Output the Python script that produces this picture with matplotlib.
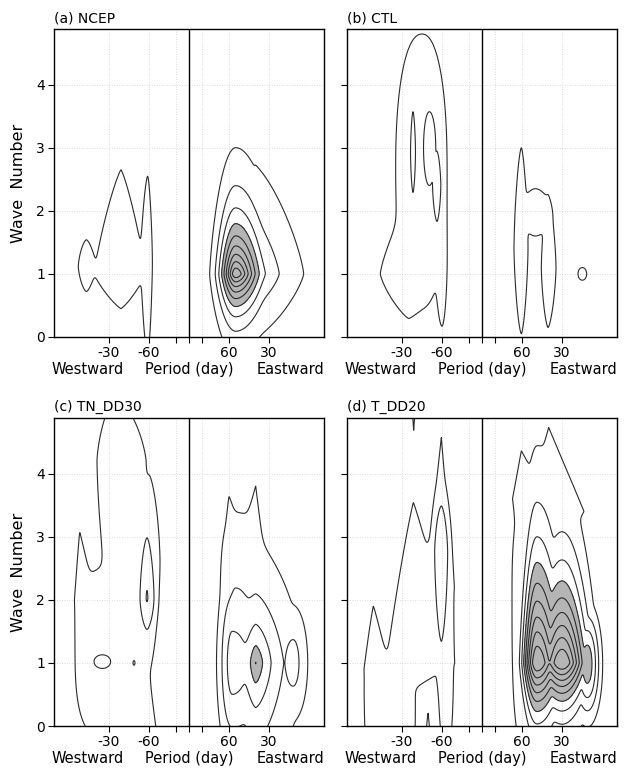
import numpy as np
import matplotlib
matplotlib.use('Agg')
import matplotlib.pyplot as plt

# frequency axis in cycles per 360 days (period P -> 360/P), wave number 0..4.9
FREQ_LIM = 20.25
WAVE_LIM = 4.88
TICK_POS = [-12, -6, -2, 0, 2, 6, 12]
TICK_LAB = ['-30', '-60', '', '', '', '60', '30']
WAVE_TICKS = [0, 1, 2, 3, 4]
LEVELS = [1, 2, 3, 4, 5, 6, 7, 8, 9, 10, 11]
SHADE_FROM = 4

# spectral peaks:
# (freq, wave, peak, left, right, down, up, shape p, profile qx, profile qy)
# left/right/down/up = half-extent of the outermost (level 1) contour
NCEP_PEAKS = [
    (-6.2, 1.2, 1.6, 1.0, 0.7, 1.5, 1.35, 1.5, 1, 1),
    (-10.2, 1.0, 1.6, 4.0, 3.6, 0.55, 1.65, 1.2, 1, 1),
    (-15.4, 1.12, 1.6, 1.2, 1.3, 0.4, 0.42, 1.5, 1, 1),
    (7.0, 1.0, 10.0, 3.9, 6.5, 1.3, 2.0, 1.3, 1.5, 1),
    (10.0, 1.0, 3.9, 2.0, 7.2, 1.0, 1.7, 1.3, 1, 1),
]
CTL_PEAKS = [
    (-9.0, 2.7, 1.6, 3.95, 3.75, 2.2, 2.1, 2.2, 1, 1),
    (-11.0, 1.0, 1.6, 4.25, 3.5, 0.68, 1.0, 1.3, 1, 1),
    (-6.0, 1.2, 1.6, 0.9, 0.75, 1.02, 1.5, 1.8, 1, 1),
    (-10.35, 2.93, 2.95, 0.62, 0.62, 1.07, 1.07, 0.8, 2, 2),
    (-7.9, 3.0, 2.95, 1.45, 1.6, 1.0, 0.95, 1.0, 2, 2),
    (-6.75, 2.4, 2.95, 1.1, 0.95, 0.95, 0.9, 0.8, 2, 2),
    (5.9, 1.4, 1.6, 1.1, 1.0, 1.35, 1.6, 1.5, 1, 1),
    (9.9, 1.1, 1.6, 1.0, 1.2, 0.95, 1.1, 1.5, 1, 1),
    (8.0, 1.95, 1.6, 2.2, 2.4, 0.35, 0.4, 1.8, 1, 1),
    (15.05, 1.0, 1.3, 0.65, 0.65, 0.1, 0.1, 2.0, 1, 1),
]
TN_PEAKS = [
    (-11.2, 1.3, 1.6, 5.9, 4.85, 1.55, 1.2, 3.0, 1, 1),
    (-6.3, 0.0, 1.6, 1.5, 1.3, 0.5, 1.0, 1.0, 1, 1),
    (-11.0, 4.2, 1.6, 2.8, 4.5, 2.6, 1.0, 1.5, 1, 1),
    (-5.9, 2.6, 1.6, 2.0, 1.55, 1.6, 1.3, 1.6, 1, 1),
    (-16.4, 2.0, 1.6, 0.7, 2.0, 1.0, 1.07, 1.1, 1, 1),
    (-13.0, 1.02, 2.95, 2.08, 2.08, 0.18, 0.18, 1.0, 2, 2),
    (-6.3, 2.03, 3.02, 1.72, 1.72, 0.82, 1.56, 0.8, 2, 2),
    (-8.25, 1.0, 2.05, 0.8, 0.8, 0.2, 0.2, 1.0, 2, 2),
    (7.0, 1.8, 1.6, 2.3, 3.0, 2.2, 1.5, 3.0, 1, 1),
    (6.0, 2.8, 1.6, 0.6, 1.6, 1.0, 0.82, 1.2, 1, 1),
    (10.0, 2.6, 1.6, 3.0, 1.4, 1.0, 1.2, 1.0, 1, 1),
    (10.0, 1.0, 5.05, 5.5, 7.2, 2.2, 1.9, 1.5, 1, 1),
    (6.5, 1.0, 3.4, 2.35, 6.9, 1.56, 1.56, 1.0, 2, 2),
    (7.0, 1.4, 2.3, 2.3, 6.3, 2.2, 1.9, 1.0, 2, 2),
    (15.6, 1.0, 2.3, 2.7, 2.2, 0.9, 0.9, 1.0, 2, 2),
]
T_PEAKS = [
    (-16.3, 0.9, 1.6, 1.35, 2.2, 1.5, 1.0, 1.1, 1, 1),
    (-13.6, 0.3, 1.6, 4.0, 3.6, 1.0, 0.7, 3.0, 1, 1),
    (-10.3, 1.0, 1.6, 4.0, 5.9, 0.39, 2.54, 1.1, 1, 1),
    (-6.1, 2.2, 1.6, 2.44, 1.85, 1.5, 2.37, 1.0, 1, 1),
    (-5.3, 1.4, 1.6, 1.3, 1.05, 1.8, 1.65, 2.5, 1, 1),
    (-6.1, 2.75, 2.95, 1.67, 1.58, 2.35, 1.23, 0.8, 2, 2),
    (-10.25, 5.15, 1.6, 0.3, 0.3, 0.47, 0.3, 1.0, 1, 1),
    (-8.1, -0.1, 1.6, 0.3, 0.3, 0.3, 0.32, 1.0, 1, 1),
    (7.0, 2.0, 1.6, 2.5, 3.0, 2.4, 1.5, 3.0, 1, 1),
    (8.25, 1.0, 10.0, 3.17, 5.6, 1.66, 3.43, 1.0, 2, 1.2),
    (12.0, 1.0, 10.0, 5.6, 5.5, 1.31, 2.8, 1.0, 2, 1.2),
    (15.8, 0.98, 4.6, 2.3, 2.3, 1.0, 1.0, 1.0, 2, 2),
    (5.9, 3.6, 1.6, 1.3, 3.9, 1.0, 0.76, 1.0, 1, 1),
    (10.0, 3.4, 1.6, 3.4, 5.3, 1.0, 1.33, 1.0, 1, 1),
]

PANELS = [
    ('(a) NCEP', NCEP_PEAKS),
    ('(b) CTL', CTL_PEAKS),
    ('(c) TN_DD30', TN_PEAKS),
    ('(d) T_DD20', T_PEAKS),
]


def spectrum(K, W, peaks, n=16):
    acc = np.zeros_like(K)
    for k0, w0, amp, el, er, ed, eu, p, qx, qy in peaks:
        la = np.log(amp)
        sx = np.where(K < k0, el, er) / la ** (1.0 / qx)
        sy = np.where(W < w0, ed, eu) / la ** (1.0 / qy)
        u = np.abs((K - k0) / sx) ** qx
        v = np.abs((W - w0) / sy) ** qy
        r = (u ** p + v ** p) ** (1.0 / p)
        acc += (amp * np.exp(-r)) ** n
    return acc ** (1.0 / n)


plt.rcParams['font.family'] = 'DejaVu Sans'
fig = plt.figure(figsize=(6.25, 7.74), dpi=100)

W_FIG, H_FIG = 625.0, 774.0
boxes = [(54, 29), (347, 29), (54, 418), (347, 418)]   # left, top in px
AX_W, AX_H = 270, 308

kk = np.linspace(-21, 21, 700)
ww = np.linspace(-1.5, 5.5, 480)
K, W = np.meshgrid(kk, ww)

for i, ((title, peaks), (px, py)) in enumerate(zip(PANELS, boxes)):
    ax = fig.add_axes([px / W_FIG, 1 - (py + AX_H) / H_FIG, AX_W / W_FIG, AX_H / H_FIG])
    F = spectrum(K, W, peaks)
    ax.contourf(K, W, F, levels=[SHADE_FROM, 1000], colors=['#b5b5b5'])
    ax.contour(K, W, F, levels=LEVELS, colors='#2b2b2b', linewidths=0.8)

    for x in TICK_POS:
        if x != 0:
            ax.axvline(x, color='#cfcfcf', lw=0.6, ls=(0, (1, 2)), zorder=0)
    for y in WAVE_TICKS[1:]:
        ax.axhline(y, color='#cfcfcf', lw=0.6, ls=(0, (1, 2)), zorder=0)
    ax.axvline(0, color='black', lw=1.0)

    ax.set_xlim(-FREQ_LIM, FREQ_LIM)
    ax.set_ylim(0, WAVE_LIM)
    ax.set_xticks(TICK_POS)
    ax.set_xticklabels(TICK_LAB, fontsize=10)
    ax.set_yticks(WAVE_TICKS)
    if i % 2 == 0:
        ax.set_yticklabels([str(t) for t in WAVE_TICKS], fontsize=10)
        ax.set_ylabel('Wave  Number', fontsize=11.5, labelpad=7)
    else:
        ax.set_yticklabels([])
    ax.tick_params(direction='out', length=4, width=0.8, pad=2.5)
    for s in ax.spines.values():
        s.set_linewidth(1.0)

    ax.text(-0.01, -0.105, 'Westward', transform=ax.transAxes,
            ha='left', va='center', fontsize=10.5)
    ax.text(0.5, -0.105, 'Period (day)', transform=ax.transAxes,
            ha='center', va='center', fontsize=10.5)
    ax.text(1.0, -0.105, 'Eastward', transform=ax.transAxes,
            ha='right', va='center', fontsize=10.5)
    fig.text(px / W_FIG, 1 - (py - 11) / H_FIG, title,
             ha='left', va='center', fontsize=10)

fig.savefig('out.png', dpi=100)
